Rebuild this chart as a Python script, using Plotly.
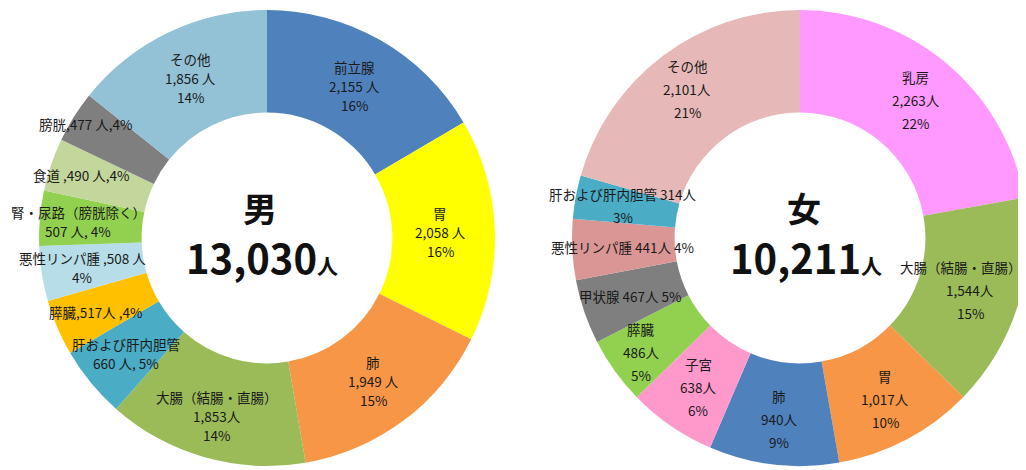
import math
import plotly.graph_objects as go

# ---------------- data ----------------
male_names = ["前立腺", "胃", "肺", "大腸（結腸・直腸）", "肝および肝内胆管", "膵臓",
              "悪性リンパ腫", "腎・尿路（膀胱除く）", "食道", "膀胱", "その他"]
male_values = [2155, 2058, 1949, 1853, 660, 517, 508, 507, 490, 477, 1856]
male_pct = [16, 16, 15, 14, 5, 4, 4, 4, 4, 4, 14]

female_names = ["乳房", "大腸（結腸・直腸）", "胃", "肺", "子宮", "膵臓", "甲状腺",
                "悪性リンパ腫", "肝および肝内胆管", "その他"]
female_values = [2263, 1544, 1017, 940, 638, 486, 467, 441, 314, 2101]
female_pct = [22, 15, 10, 9, 6, 5, 5, 4, 3, 21]

# ---------------- styles ----------------
male_colors = ["#4F81BD", "#FFFF00", "#F79646", "#9BBB59", "#4BACC6", "#FFC000",
               "#B7DEE8", "#92D050", "#C3D69B", "#7F7F7F", "#93C1D5"]
female_colors = ["#FF99FF", "#9BBB59", "#F79646", "#4F81BD", "#FF99CC", "#92D050",
                 "#7F7F7F", "#D99694", "#4BACC6", "#E6B9B8"]

male_tpl = ["{n}<br>{v} 人<br>{p}%", "{n}<br>{v} 人<br>{p}%", "{n}<br>{v} 人<br>{p}%",
            "{n}<br>{v}人<br>{p}%", "{n}<br>{v} 人, {p}%", "{n},{v}人 ,{p}%",
            "{n} ,{v} 人<br>{p}%", "{n}<br>{v} 人, {p}%", "{n} ,{v} 人,{p}%",
            "{n},{v} 人,{p}%", "{n}<br>{v} 人<br>{p}%"]
female_tpl = ["{n}<br>{v}人<br>{p}%", "{n}<br>{v}人<br>{p}%", "{n}<br>{v}人<br>{p}%",
              "{n}<br>{v}人<br>{p}%", "{n}<br>{v}人<br>{p}%", "{n}<br>{v}人<br>{p}%",
              "{n} {v}人 {p}%", "{n} {v}人 {p}%", "{n} {v}人<br>{p}%",
              "{n}<br>{v}人<br>{p}%"]

male_label_r = [0.77, 0.76, 0.78, 0.81, 0.80, 0.82, 0.82, 0.83, 0.86, 0.94, 0.78]
female_label_r = [0.79, 0.78, 0.80, 0.80, 0.79, 0.86, 0.79, 0.78, 0.79, 0.82]

W, H = 1026, 470
OFF = 8          # page body margin of the written html
R = 228
HOLE = 0.55
FONT = "Noto Sans CJK JP, Noto Sans, sans-serif"
LABEL_SIZE = 13.5


def px(x):
    return (x - OFF) / W


def py(y):
    return 1 - (y - OFF) / H


def text_width(s, size):
    return sum(size * (0.55 if ord(c) < 128 else 1.0) for c in s)


charts = [
    dict(names=male_names, values=male_values, pct=male_pct, colors=male_colors,
         tpl=male_tpl, lr=male_label_r, cx=267, cy=238, title="男",
         tx=262, lsp=19),
    dict(names=female_names, values=female_values, pct=female_pct, colors=female_colors,
         tpl=female_tpl, lr=female_label_r, cx=800, cy=238, title="女",
         tx=806, lsp=23),
]

fig = go.Figure()
annotations = []

for ch in charts:
    cx, cy = ch["cx"], ch["cy"]
    x0 = max(0.0, px(cx - R))
    x1 = min(1.0, px(cx + R))
    rr = R
    fig.add_trace(go.Pie(
        labels=ch["names"], values=ch["values"], sort=False,
        direction="clockwise", rotation=0, hole=HOLE,
        marker=dict(colors=ch["colors"], line=dict(width=0)),
        textinfo="none", hoverinfo="label+value+percent", showlegend=False,
        domain=dict(x=[x0, x1], y=[py(cy + R), py(cy - R)]),
    ))
    total = sum(ch["values"])
    cum = 0
    for name, v, p, tpl, lr in zip(ch["names"], ch["values"], ch["pct"], ch["tpl"], ch["lr"]):
        mid = (cum + v / 2) / total * 2 * math.pi
        cum += v
        lx = cx + lr * rr * math.sin(mid)
        ly = cy - lr * rr * math.cos(mid)
        text = tpl.format(n=name, v=f"{v:,}", p=p)
        lines = text.split("<br>")
        n = len(lines)
        for i, line in enumerate(lines):
            yy = ly + (i - (n - 1) / 2) * ch["lsp"]
            half = text_width(line, LABEL_SIZE) / 2
            xx = min(lx, W - 4 - half)   # keep text inside the visible page
            annotations.append(dict(
                x=px(xx), y=py(yy), xref="paper", yref="paper", text=line,
                showarrow=False, xanchor="center", yanchor="middle",
                font=dict(family=FONT, size=LABEL_SIZE, color="#1a1a1a"),
            ))
    # centre texts
    annotations.append(dict(
        x=px(ch["tx"] - 2), y=py(cy - 30), xref="paper", yref="paper",
        text="<b>" + ch["title"] + "</b>", showarrow=False,
        xanchor="center", yanchor="middle",
        font=dict(family=FONT, size=34, color="#111111"),
    ))
    annotations.append(dict(
        x=px(ch["tx"]), y=py(cy + 19), xref="paper", yref="paper",
        text="<b>" + f"{total:,}" + "</b><span style='font-size:21px'><b>人</b></span>",
        showarrow=False, xanchor="center", yanchor="middle",
        font=dict(family=FONT, size=40, color="#111111"),
    ))

fig.update_layout(
    width=W, height=H,
    margin=dict(l=0, r=0, t=0, b=0),
    paper_bgcolor="white", plot_bgcolor="white",
    annotations=annotations,
)

fig.write_html("out.html")
